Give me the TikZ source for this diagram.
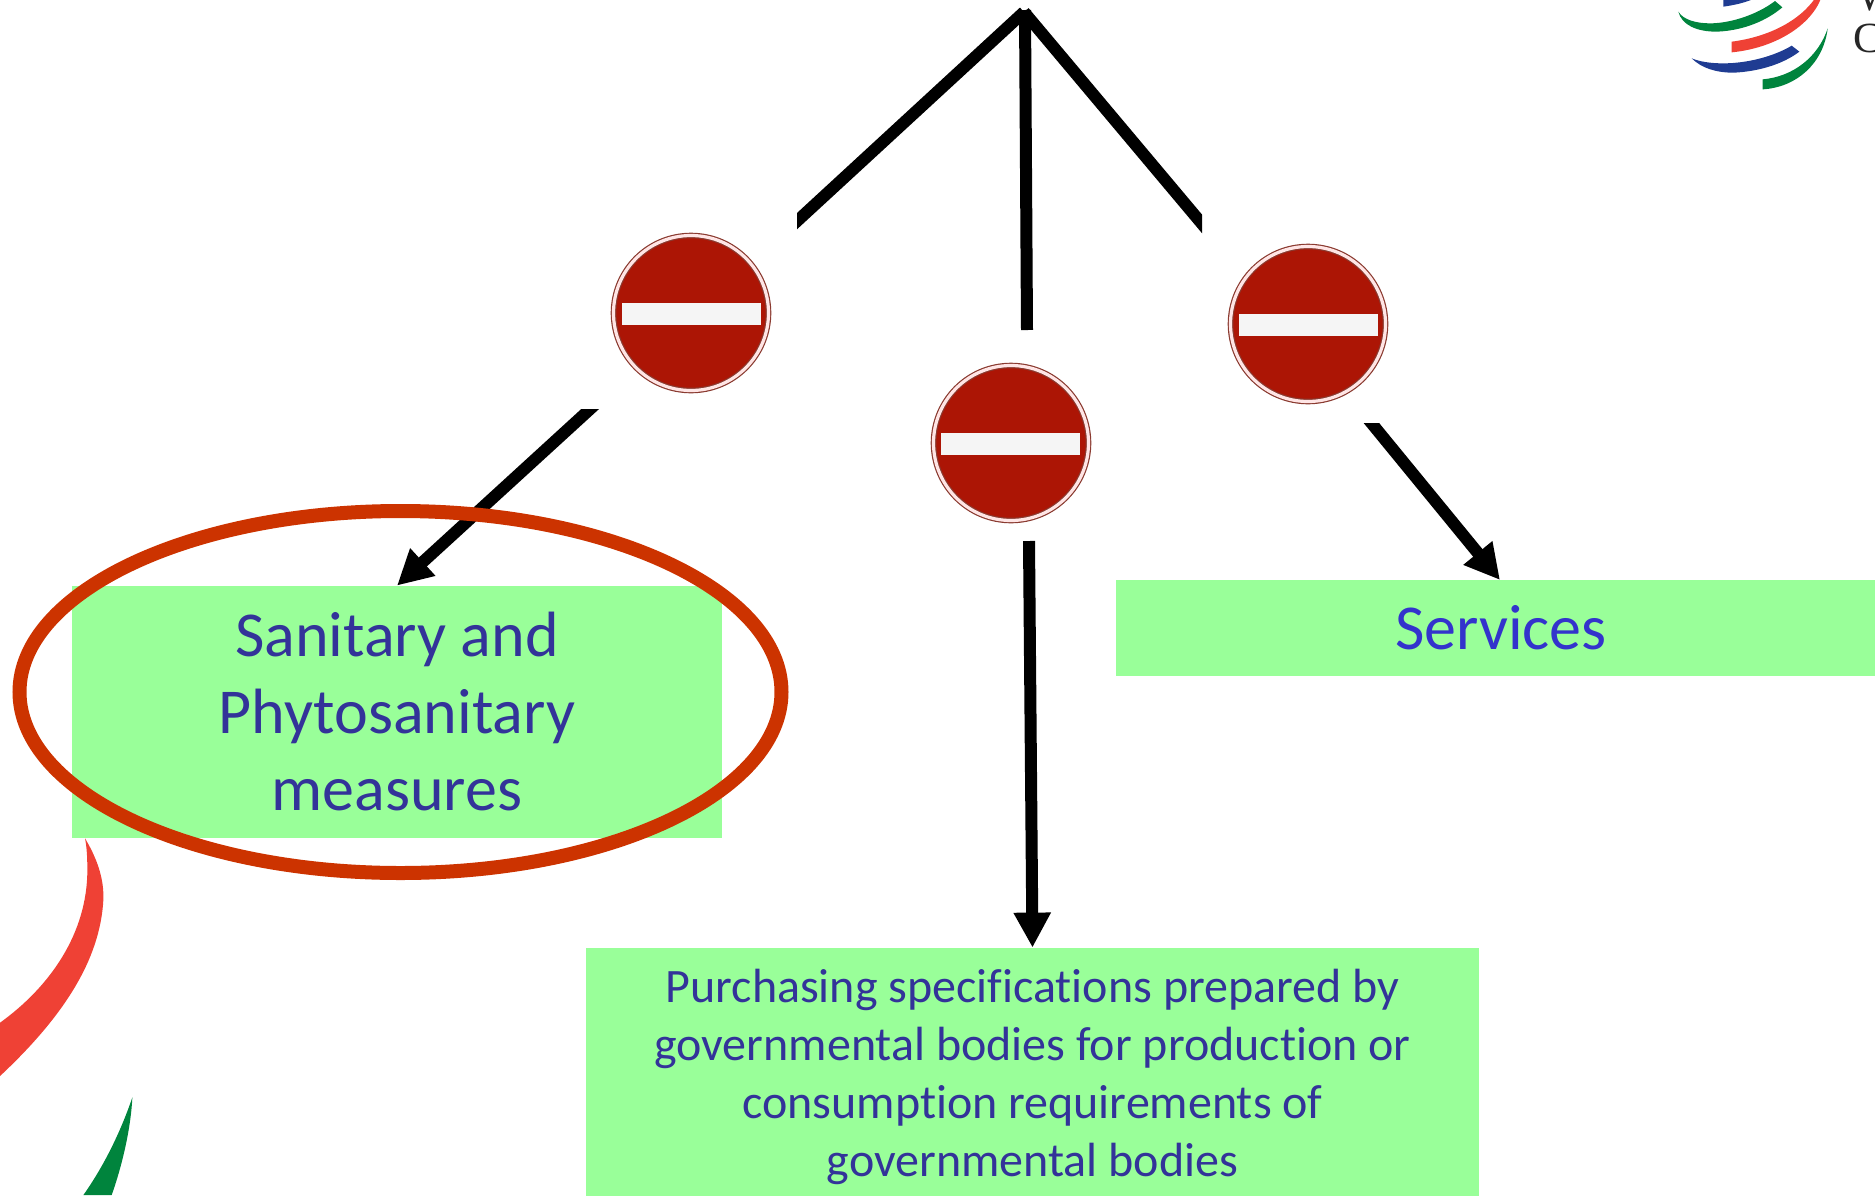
\documentclass[tikz,border=0pt]{standalone}
\usepackage{fontspec}
\usepackage{xcolor}
\usepackage{tikz}
\usetikzlibrary{arrows.meta}
\usetikzlibrary{shapes.geometric}
\setmainfont{Carlito}[Ligatures=NoCommon]
\newfontfamily\logofont{Liberation Serif}
\definecolor{boxgreen}{HTML}{99FF99}
\definecolor{textblue}{HTML}{333399}
\definecolor{servblue}{HTML}{3333CC}
\definecolor{ringred}{HTML}{CC3300}
\definecolor{signred}{HTML}{AC1505}
\definecolor{signedge}{HTML}{8A3A30}
\definecolor{wtored}{HTML}{EF4135}
\definecolor{wtogreen}{HTML}{00843D}
\definecolor{wtoblue}{HTML}{1F3C92}
\tikzset{
  stopsign/.style={circle,minimum size=77.5pt,inner sep=0pt,fill=signred,draw=signedge,line width=.6pt,double=white!90!red,double distance=1.6pt},
  stopbar/.style={rectangle,minimum width=69.5pt,minimum height=11pt,inner sep=0pt,fill=white!92!gray},
  greenbox/.style={rectangle,fill=boxgreen,inner sep=0pt,align=center},
  bigtext/.style={font=\fontsize{32}{38.5}\selectfont},
  smalltext/.style={font=\fontsize{24}{29}\selectfont},
  bar/.style={line width=6pt,line cap=butt},
  arrow/.style={bar,-{Triangle[length=17.5pt,width=17.5pt]}}
}
\begin{document}
\begin{tikzpicture}[x=0.5pt,y=-0.5pt]
  \useasboundingbox (0,0) rectangle (1875,1195);
  \clip (0,0) rectangle (1875,1195);

  % swooshes behind the boxes
  \begin{scope}[shift={(0,820)},x=0.1667pt,y=-0.1667pt]
    \fill[wtored] (255,55) .. controls (300,130) and (312,190) .. (310,240)
      .. controls (300,420) and (190,590) .. (0,768) -- (0,608)
      .. controls (150,500) and (262,340) .. (262,150) .. controls (262,110) and (260,80) .. (255,55) -- cycle;
    \fill[wtogreen] (397,832) .. controls (392,930) and (365,1040) .. (335,1125) -- (250,1125)
      .. controls (310,1040) and (360,940) .. (397,832) -- cycle;
  \end{scope}

  % logo
  \begin{scope}[shift={(1640,0)},x=0.1667pt,y=-0.1667pt]
    \fill[wtoblue] (250,-5) -- (250,20) .. controls (285,15) and (315,8) .. (345,-5) -- cycle;
    \fill[wtogreen] (115,35) .. controls (125,75) and (170,95) .. (230,95)
      .. controls (310,92) and (380,62) .. (427,22) -- (405,3)
      .. controls (350,45) and (270,70) .. (210,70) .. controls (170,70) and (130,60) .. (115,35) -- cycle;
    \fill[wtored] (275,125) -- (275,157) .. controls (400,145) and (510,80) .. (543,-5) -- (525,-5)
      .. controls (480,60) and (390,110) .. (275,125) -- cycle;
    \fill[wtoblue] (155,175) .. controls (185,205) and (230,218) .. (280,218)
      .. controls (350,215) and (425,195) .. (478,155) -- (455,137)
      .. controls (400,170) and (320,190) .. (250,190) .. controls (210,190) and (180,185) .. (155,175) -- cycle;
    \fill[wtogreen] (563,85) .. controls (550,190) and (470,262) .. (368,268) -- (368,238)
      .. controls (460,230) and (535,170) .. (563,85) -- cycle;
  \end{scope}
  \node (logow) [anchor=base west,inner sep=0pt,text=black!85] at (1857,10) {\fontsize{21.5}{25}\logofont W};
  \node (logoc) [anchor=base west,inner sep=0pt,text=black!85] at (1853,52) {\fontsize{21.5}{25}\logofont C};

  % boxes
  \node (sps) [greenbox,bigtext,minimum width=325pt,minimum height=126pt,text=textblue] at (397,712)
    {Sanitary and\\Phytosanitary\\measures};
  \node (services) [greenbox,bigtext,minimum width=385pt,minimum height=48pt,text=servblue] at (1501,628)
    {Services};
  \node (purchasing) [greenbox,smalltext,minimum width=446.5pt,minimum height=128.5pt,text=textblue] at (1032.5,1076.5)
    {Purchasing specifications prepared by\\governmental bodies for production or\\consumption requirements of\\governmental bodies};

  % no-entry signs
  \node (signa) [stopsign] at (691,313) {};
  \node (signabar) [stopbar] at (691,314) {};
  \node (signb) [stopsign] at (1011,443) {};
  \node (signbbar) [stopbar] at (1010,444) {};
  \node (signc) [stopsign] at (1308,324) {};
  \node (signcbar) [stopbar] at (1308,325) {};

  \coordinate (apex) at (1024,12);
  \coordinate (linea) at (770,246);
  \coordinate (lineb) at (1027,330);
  \coordinate (linec) at (1229,256);
  \coordinate (arrowa) at (600,400);
  \coordinate (arrowb) at (1029,541);
  \coordinate (arrowc) at (1364,414);

  % lines from the top, cut square where the signs begin
  \begin{scope}
    \clip (797,0) rectangle (1202,400);
    \draw[bar] (apex) -- (linea);
    \draw[bar] (apex) -- (linec);
    \draw[bar] (1025,10) -- (lineb);
  \end{scope}

  % arrows
  \begin{scope}
    \clip (0,409) rectangle (1000,1195);
    \draw[arrow] (arrowa) -- (sps.north);
  \end{scope}
  \draw[arrow] (arrowb) -- (purchasing.north);
  \begin{scope}
    \clip (1000,423) rectangle (1875,1195);
    \draw[arrow] (arrowc) -- (1500,580);
  \end{scope}

  \node (ring) [ellipse,draw=ringred,line width=7pt,minimum width=381pt,minimum height=181pt,inner sep=0pt] at (400.5,692) {};
\end{tikzpicture}
\end{document}
